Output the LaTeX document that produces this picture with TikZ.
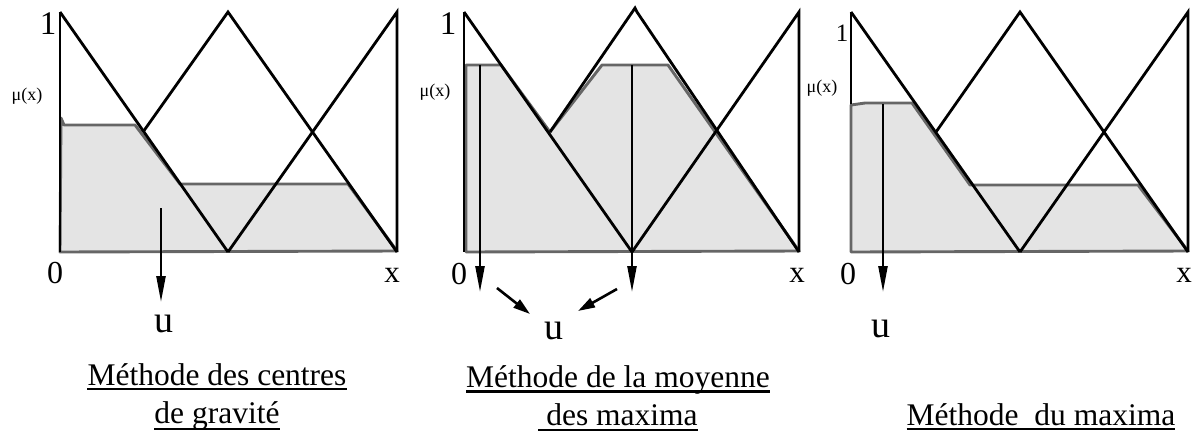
\documentclass[tikz,border=0pt]{standalone}
\usepackage{fontspec}
\setmainfont{Liberation Serif}
\usetikzlibrary{arrows.meta,calc}
\definecolor{shadefill}{HTML}{E4E4E4}
\definecolor{shadeline}{HTML}{666666}
\begin{document}
\begin{tikzpicture}[x=1pt,y=-1pt,
  mf/.style={black,line width=2.8pt,line join=miter},
  shadearea/.style={fill=shadefill,draw=shadeline,line width=2.9pt,line join=round},
  outarrow/.style={black,line width=2.4pt,-{Triangle[length=26pt,width=9pt]}},
  sidearrow/.style={black,line width=2.6pt,-{Triangle[length=17pt,width=10pt]}},
  onelab/.style={inner sep=0,font=\fontsize{33}{38}\selectfont},
  onesmall/.style={inner sep=0,font=\fontsize{25}{30}\selectfont},
  zerolab/.style={inner sep=0,font=\fontsize{32}{38}\selectfont},
  xlab/.style={inner sep=0,font=\fontsize{31}{38}\selectfont},
  ulab/.style={inner sep=0,font=\fontsize{38}{44}\selectfont},
  mulab/.style={inner sep=0,font=\fontsize{18}{22}\selectfont},
  caption/.style={inner sep=0,anchor=base,font=\fontsize{31.5}{38}\selectfont},
  uline/.style={black,line width=2.6pt}
]
\useasboundingbox (0,0) rectangle (1192,432);

% ---------------- Panel 1 ----------------
\draw[shadearea] (61,118) -- (64,125) -- (135,125) -- (180,184) -- (348,184) -- (397,251) -- (60,252) -- cycle;
\draw[mf] (60,12) -- (60,252);
\draw[mf] (60,12) -- (228,252);
\draw[mf] (143,132) -- (228,12) -- (397,252);
\draw[mf] (228,252) -- (397,12) -- (397,252);
\node[onelab] (one1) at (48,24) {1};
\node[mulab] (mu1) at (27,96) {μ(x)};
\node[zerolab] (zero1) at (55,273) {0};
\node[xlab] (x1) at (392,275) {x};
\node[ulab] (u1) at (164,324) {u};
\coordinate (a1s) at (161,208);
\coordinate (a1e) at (161,302);
\draw[outarrow] (a1s) -- (a1e);
\node[caption] (c1a) at (217,385) {Méthode des centres};
\node[caption] (c1b) at (217,423) {de gravité};
\draw[uline] ($(c1a.base west)+(0,4)$) -- ($(c1a.base east)+(0,4)$);
\draw[uline] ($(c1b.base west)+(0,6)$) -- ($(c1b.base east)+(0,6)$);

% ---------------- Panel 2 ----------------
\draw[shadearea] (466,65) -- (501,65) -- (550,132) -- (602,65) -- (668,65) -- (799,251) -- (466,252) -- cycle;
\draw[mf] (464,12) -- (464,252);
\draw[mf] (464,12) -- (632,252);
\draw[mf] (550,132) -- (635,8) -- (637,12) -- (799,252);
\draw[mf] (632,252) -- (799,12) -- (799,252);
\node[onelab] (one2) at (448,24) {1};
\node[mulab] (mu2) at (435,92) {μ(x)};
\node[zerolab] (zero2) at (459,274) {0};
\node[xlab] (x2) at (797,275) {x};
\node[ulab] (u2) at (554,331) {u};
\coordinate (a2s) at (480,65);
\coordinate (a2e) at (480,292);
\coordinate (a3s) at (632,65);
\coordinate (a3e) at (632,292);
\draw[outarrow] (a2s) -- (a2e);
\draw[outarrow] (a3s) -- (a3e);
\coordinate (d1s) at (497,288);
\coordinate (d1e) at (530,314);
\coordinate (d2s) at (617,289);
\coordinate (d2e) at (578,311);
\draw[sidearrow] (d1s) -- (d1e);
\draw[sidearrow] (d2s) -- (d2e);
\node[caption] (c2a) at (618,387) {Méthode de la moyenne};
\node[caption] (c2b) at (618,425) {\ des maxima};
\draw[uline] ($(c2a.base west)+(0,4.5)$) -- ($(c2a.base east)+(0,4.5)$);
\draw[uline] ($(c2b.base west)+(0,5)$) -- ($(c2b.base east)+(0,5)$);

% ---------------- Panel 3 ----------------
\draw[shadearea] (851,105) -- (865,103) -- (912,103) -- (970,185) -- (1138,185) -- (1188,251) -- (851,252) -- cycle;
\draw[mf] (851,12) -- (851,104);
\draw[mf] (851,12) -- (1020,252);
\draw[mf] (936,132) -- (1020,12) -- (1188,252);
\draw[mf] (1020,252) -- (1188,12) -- (1188,252);
\node[onesmall] (one3) at (842,33) {1};
\node[mulab] (mu3) at (822,88) {μ(x)};
\node[zerolab] (zero3) at (848,274) {0};
\node[xlab] (x3) at (1184,275) {x};
\node[ulab] (u3) at (881,329) {u};
\coordinate (a4s) at (883,104);
\coordinate (a4e) at (883,292);
\draw[outarrow] (a4s) -- (a4e);
\node[caption] (c3) at (1041,425) {Méthode\ \ du maxima};
\draw[uline] ($(c3.base west)+(0,4)$) -- ($(c3.base east)+(0,4)$);
\end{tikzpicture}
\end{document}
